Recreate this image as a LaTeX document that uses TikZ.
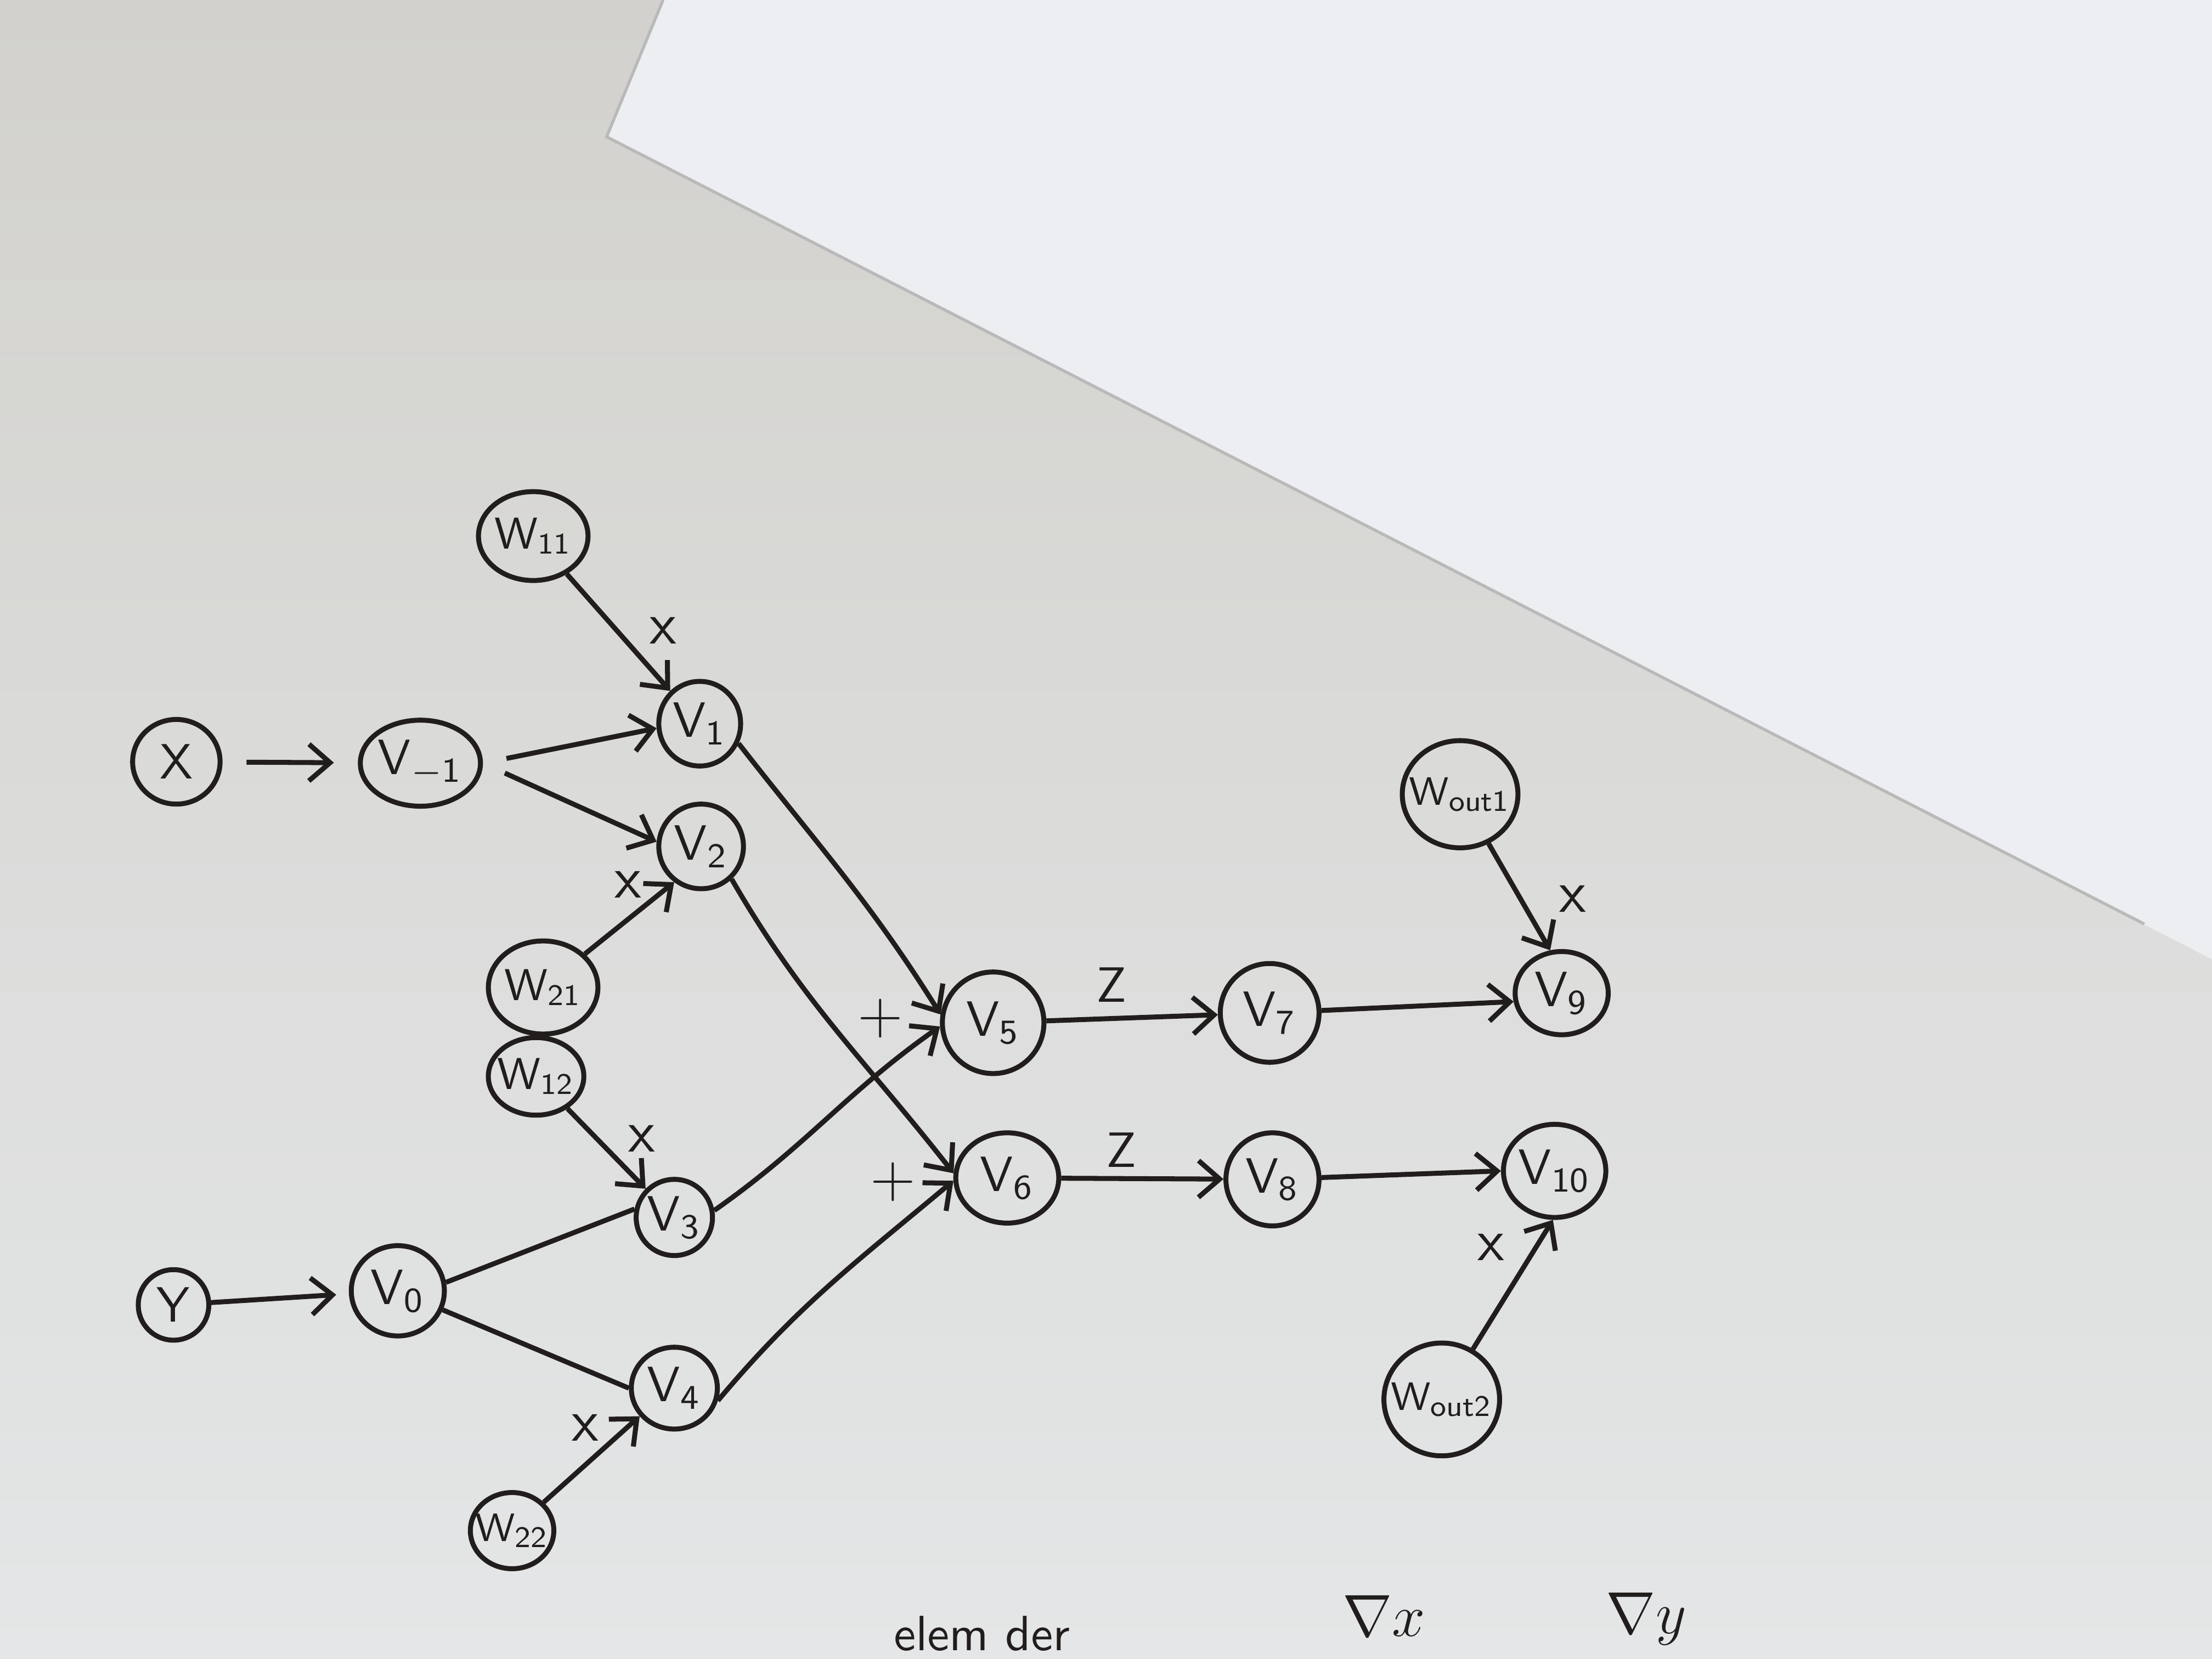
\documentclass[tikz,border=0pt]{standalone}
\usepackage{amsmath, amssymb}
\usepackage{tikz}
\usetikzlibrary{arrows.meta, shapes.geometric}

\definecolor{paperLow}{RGB}{222,214,201}
\definecolor{paperTop}{RGB}{210,209,205}
\definecolor{paperBot}{RGB}{228,230,231}
\definecolor{paperSheet}{RGB}{236,238,241}
\definecolor{ink}{RGB}{32,29,28}

\begin{document}
\begin{tikzpicture}[
        varNode/.style={draw=ink, ellipse, line width=1pt, inner sep=0pt, minimum width=6mm, minimum height=6mm, text=ink, font=\normalsize},
        weightNode/.style={varNode, font=\small},
        opLabel/.style={text=ink, font=\sffamily\large, inner sep=1pt},
        arrow/.style={-{Straight Barb[length=1.5mm, width=2.6mm]}, line width=1pt, draw=ink},
        link/.style={line width=1pt, draw=ink}
    ]
        % Paper
        \useasboundingbox (0,0) rectangle (15.68,-11.76);
        \shade[top color=paperTop, middle color=paperLow, bottom color=paperBot] (0,0) rectangle (15.68,-11.76);
        \fill[paperSheet] (4.70,0) -- (4.30,-0.97) -- (15.68,-6.80) -- (15.68,0) -- cycle;
        \draw[gray!55, line width=0.6pt] (4.70,0) -- (4.30,-0.97) -- (15.20,-6.55);

        % Nodes
        \node[varNode, minimum width=6.2mm, minimum height=6.0mm] (x) at (1.25,-5.40) {$\mathsf{X}$};
        \node[varNode, minimum width=6.6mm, minimum height=6.1mm] (vm1) at (2.98,-5.41) {$\mathsf{V_{-1}}$};
        \node[weightNode, minimum width=7.3mm, minimum height=6.3mm] (w11) at (3.78,-3.80) {$\mathsf{W_{11}}$};
        \node[varNode, minimum width=5.8mm, minimum height=6.0mm] (v1) at (4.96,-5.13) {$\mathsf{V_{1}}$};
        \node[varNode] (v2) at (4.97,-6.00) {$\mathsf{V_{2}}$};
        \node[weightNode, minimum width=6.8mm, minimum height=6.6mm] (w21) at (3.85,-7.00) {$\mathsf{W_{21}}$};
        \node[weightNode, minimum width=6.2mm, minimum height=5.5mm, inner sep=-1pt] (w12) at (3.80,-7.63) {$\mathsf{W_{12}}$};
        \node[varNode, minimum size=5.4mm] (v3) at (4.78,-8.63) {$\mathsf{V_{3}}$};
        \node[varNode, minimum size=5.0mm] (y) at (1.23,-9.25) {$\mathsf{Y}$};
        \node[varNode, minimum width=6.6mm, minimum height=6.4mm] (v0) at (2.82,-9.15) {$\mathsf{V_{0}}$};
        \node[varNode, minimum width=6.1mm, minimum height=5.8mm] (v4) at (4.78,-9.84) {$\mathsf{V_{4}}$};
        \node[weightNode, minimum size=5.4mm, inner sep=-1.5pt, font=\footnotesize] (w22) at (3.63,-10.85) {$\mathsf{W_{22}}$};

        \node[varNode, minimum size=7.2mm] (v5) at (7.04,-7.25) {$\mathsf{V_{5}}$};
        \node[varNode, minimum width=7.3mm, minimum height=6.4mm] (v6) at (7.14,-8.35) {$\mathsf{V_{6}}$};
        \node[varNode, minimum size=7.0mm] (v7) at (9.00,-7.18) {$\mathsf{V_{7}}$};
        \node[varNode, minimum size=6.6mm] (v8) at (9.02,-8.36) {$\mathsf{V_{8}}$};
        \node[weightNode, minimum width=8.1mm, minimum height=7.6mm, inner sep=-2pt, font=\footnotesize] (wout1) at (10.35,-5.63) {$\mathsf{W_{out1}}$};
        \node[varNode, minimum width=6.6mm, minimum height=5.9mm] (v9) at (11.07,-7.04) {$\mathsf{V_{9}}$};
        \node[varNode, minimum width=6.8mm, minimum height=6.6mm] (v10) at (11.02,-8.30) {$\mathsf{V_{10}}$};
        \node[weightNode, minimum width=7.4mm, minimum height=8.0mm, inner sep=-2pt, font=\footnotesize] (wout2) at (10.22,-9.92) {$\mathsf{W_{out2}}$};

        % Operation labels
        \node[opLabel] (mul11) at (4.70,-4.47) {x};
        \node[opLabel] (mul21) at (4.45,-6.27) {x};
        \node[opLabel] (mul12) at (4.55,-8.07) {x};
        \node[opLabel] (mul22) at (4.15,-10.12) {x};
        \node[opLabel, font=\large] (add5) at (6.24,-7.22) {+};
        \node[opLabel, font=\large] (add6) at (6.33,-8.38) {+};
        \node[opLabel, font=\sffamily] (act7) at (7.88,-6.98) {Z};
        \node[opLabel, font=\sffamily] (act8) at (7.95,-8.15) {Z};
        \node[opLabel] (mulo1) at (11.15,-6.37) {x};
        \node[opLabel] (mulo2) at (10.57,-8.84) {x};

        % Notes at the bottom edge
        \node[text=ink, font=\sffamily, anchor=base] (elemder) at (6.96,-11.70) {elem der};
        \node[text=ink, font=\large, anchor=base] (gradx) at (9.81,-11.60) {$\nabla x$};
        \node[text=ink, font=\large, anchor=base] (grady) at (11.67,-11.58) {$\nabla y$};

        % Arrows
        \draw[arrow, shorten <=1.7mm, shorten >=1.7mm] (x) -- (vm1);
        \draw[arrow, shorten <=1.7mm] (vm1.east) -- (v1.186);
        \draw[arrow, shorten <=1.7mm] (vm1.east) -- (v2.174);
        \draw[arrow] (w11) -- (v1.132);
        \draw[arrow] (w21) -- (v2.-127);
        \draw[arrow] (w12) -- (v3.135);
        \draw[arrow] (w22) -- (v4.-141);
        \draw[arrow, shorten >=0.9mm] (y) -- (v0);
        \draw[link] (v0.10) -- (v3.168);
        \draw[link] (v0.-23) -- (v4.180);
        \draw[arrow] (v1.-27) to[out=-52, in=122] (v5.171);
        \draw[arrow] (v2.-47) to[out=-60, in=128] (v6.175);
        \draw[arrow] (v3.10) to[out=35, in=215] (v5.184);
        \draw[arrow] (v4.-16) to[out=50, in=220] (v6.183);
        \draw[arrow] (v5) -- (v7);
        \draw[arrow] (v6) -- (v8);
        \draw[arrow] (v7) -- (v9.190);
        \draw[arrow] (v8) -- (v10.west);
        \draw[arrow] (wout1) -- (v9.105);
        \draw[arrow] (wout2) -- (v10.-92);
    \end{tikzpicture}
\end{document}
